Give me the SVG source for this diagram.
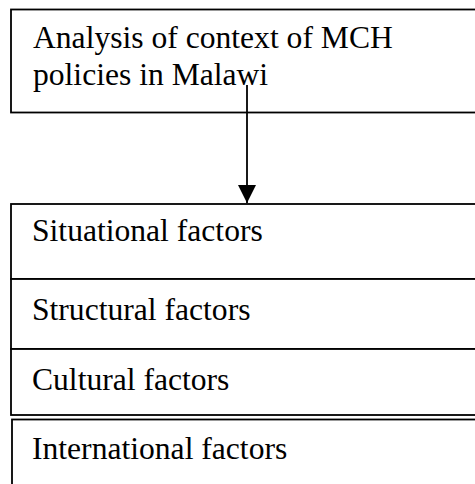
<svg xmlns="http://www.w3.org/2000/svg" width="475" height="484" viewBox="0 0 475 484">
<style>
.box{fill:#fff;stroke:#000;stroke-width:1.8}
.t{font-family:"Liberation Serif","Times New Roman",serif;font-size:31.6px;fill:#000}
.c{stroke:#000;stroke-width:1.8;fill:none}
</style>
<defs>
<marker id="ah" markerUnits="userSpaceOnUse" markerWidth="18" markerHeight="18" refX="16" refY="8" orient="auto" viewBox="0 0 16 16">
<path d="M0,0 L16,8 L0,16 Z" fill="#000"/>
</marker>
</defs>
<rect width="475" height="484" fill="#fff"/>
<g id="analysis">
<rect class="box" x="11" y="9.5" width="480" height="103"/>
<text class="t" x="33" y="48">Analysis of context of MCH</text>
<text class="t" x="33" y="85">policies in Malawi</text>
</g>
<g id="situational">
<rect class="box" x="11" y="204" width="480" height="75"/>
<text class="t" x="32" y="241">Situational factors</text>
</g>
<g id="structural">
<rect class="box" x="11" y="279" width="480" height="70"/>
<text class="t" x="32" y="320">Structural factors</text>
</g>
<g id="cultural">
<rect class="box" x="11" y="349" width="480" height="66"/>
<text class="t" x="32" y="390">Cultural factors</text>
</g>
<g id="international">
<rect class="box" x="12" y="419.5" width="480" height="80"/>
<text class="t" x="32" y="459">International factors</text>
</g>
<g id="connectors">
<line class="c" x1="247" y1="85" x2="247" y2="203" marker-end="url(#ah)"/>
</g>
</svg>
